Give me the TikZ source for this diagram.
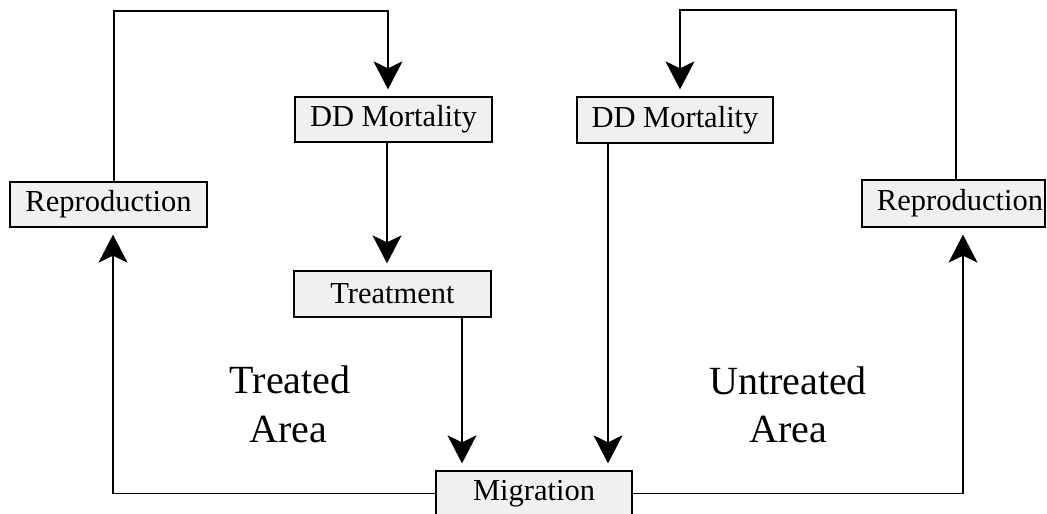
\documentclass[tikz,border=0pt]{standalone}
\usepackage{fontspec}
\setmainfont{Liberation Serif}
\usetikzlibrary{arrows.meta}
\definecolor{boxfill}{HTML}{F0F0F0}
\tikzset{
  stagebox/.style={draw=black, fill=boxfill, line width=1.3pt, inner sep=0pt,
    minimum width=197pt, minimum height=45pt,
    font=\fontsize{30.5}{36}\selectfont},
  flow/.style={line width=1.4pt, shorten >=7pt,
    -{Stealth[length=28pt, width=29pt, inset=7pt]}},
  arealabel/.style={anchor=base, inner sep=0pt, font=\fontsize{40}{48}\selectfont}
}
\begin{document}
\begin{tikzpicture}[x=1pt, y=-1pt]
\useasboundingbox (0,0) rectangle (1047,514);

% stages of the treated area (left)
\node[stagebox] (repL) at (108.5,204.5) {Reproduction};
\node[stagebox] (ddL)  at (393.5,119.5) {DD Mortality};
\node[stagebox, minimum height=46pt] (treat) at (392.5,294) {Treatment};

% shared stage
\node[stagebox, minimum width=196pt] (mig) at (534,493.5) {Migration};

% stages of the untreated area (right)
\node[stagebox, minimum width=196pt, minimum height=46pt] (ddR) at (675,120) {DD Mortality};
\node[stagebox, minimum width=183pt, minimum height=47pt, text width=179pt,
      inner xsep=2pt, align=right] (repR) at (953.5,203.5) {Reproduction};

% area labels
\node[arealabel] (tA1) at (290,393) {Treated};
\node[arealabel] (tA2) at (288,442) {Area};
\node[arealabel] (uA1) at (788,394) {Untreated};
\node[arealabel] (uA2) at (788,442) {Area};

% loop helpers
\coordinate (topL) at (0,11);
\coordinate (topR) at (0,10);
\coordinate (sideL) at (113,0);
\coordinate (sideR) at (963,0);

% treated area cycle
\draw[flow] ([xshift=5.5pt]repL.north) -- ([xshift=5.5pt]repL.north |- topL)
  -| ([xshift=-5.5pt]ddL.north);
\draw[flow] ([xshift=-6.5pt]ddL.south) coordinate (d1) -- (d1 |- treat.north);
\draw[flow] ([xshift=69.5pt]treat.south) coordinate (t1) -- (t1 |- mig.north);
\draw[flow] (mig.west) -| (sideL |- repL.south);

% untreated area cycle
\draw[flow] ([xshift=2.5pt]repR.north) -- ([xshift=2.5pt]repR.north |- topR)
  -| ([xshift=5pt]ddR.north);
\draw[flow] ([xshift=-67pt]ddR.south) coordinate (d2) -- (d2 |- mig.north);
\draw[flow] (mig.east) -| (sideR |- repR.south);
\end{tikzpicture}
\end{document}
